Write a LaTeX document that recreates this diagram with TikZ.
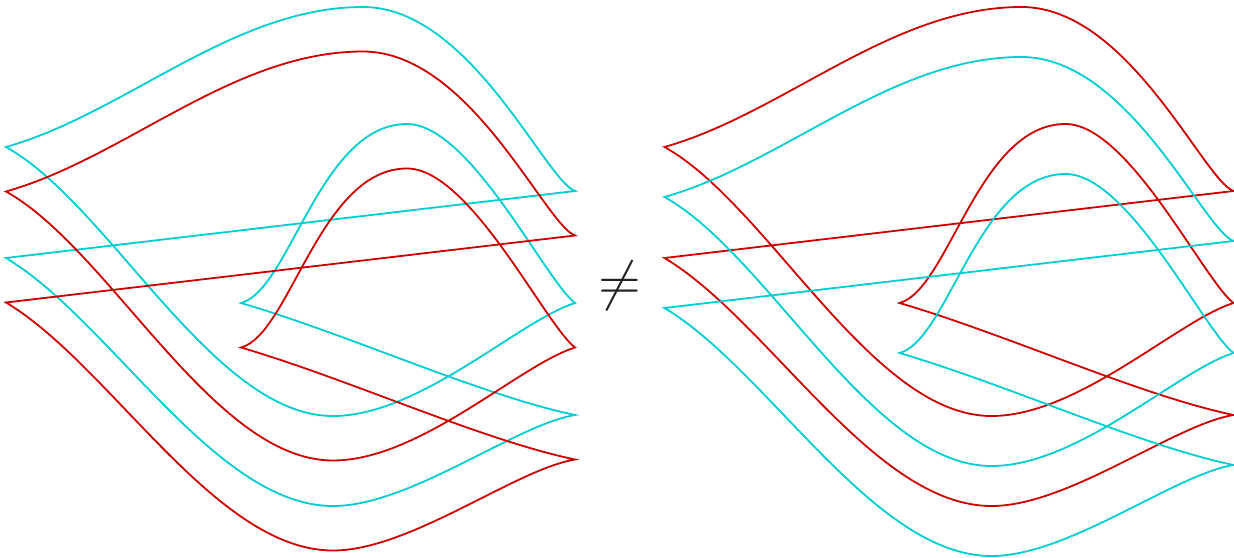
\documentclass[tikz,border=0pt]{standalone}
\definecolor{kcyan}{RGB}{0,206,209}
\definecolor{kred}{RGB}{204,0,0}
\definecolor{symgray}{RGB}{34,34,34}
\newcommand\knotfront{%
(6,147) .. controls (126,113) and (233,7) .. (363,7)
 .. controls (470,7) and (545,180) .. (575,191)
 -- (6,258)
 .. controls (110,320) and (215,506) .. (333,506)
 .. controls (410,506) and (515,425) .. (575,415)
 .. controls (480,395) and (350,335) .. (241,303)
 .. controls (290,290) and (320,124) .. (407,124)
 .. controls (470,124) and (545,280) .. (575,303)
 .. controls (520,320) and (420,416) .. (333,416)
 .. controls (213,416) and (110,205) .. cycle}
\tikzset{front/.style={line width=1.8pt, line join=miter, miter limit=10}}
\begin{document}
\begin{tikzpicture}[x=1pt,y=-1pt]
\useasboundingbox (0,0) rectangle (1234,557);
% left pair
\draw[front, kcyan] \knotfront;
\begin{scope}[yshift=-44.5pt]
\draw[front, kred] \knotfront;
\end{scope}
% right pair
\begin{scope}[xshift=658.5pt]
\draw[front, kred] \knotfront;
\end{scope}
\begin{scope}[xshift=658.5pt, yshift=-50pt]
\draw[front, kcyan] \knotfront;
\end{scope}
\node[text=symgray, inner sep=0pt, scale=5.5] (neq) at (619.5,286) {$\neq$};
\end{tikzpicture}
\end{document}
